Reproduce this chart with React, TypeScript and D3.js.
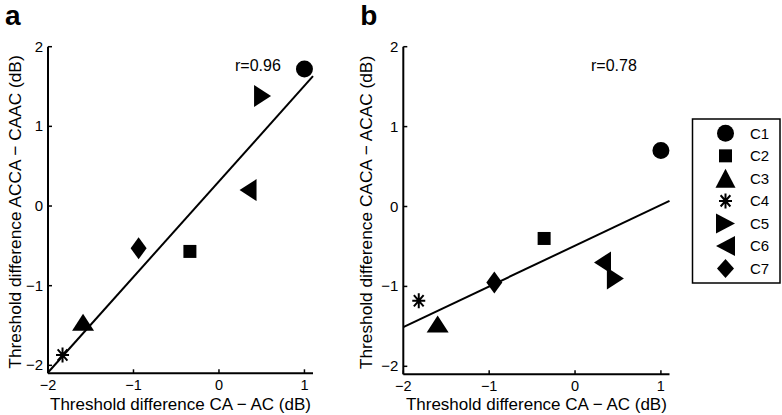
import React from "react";
import * as d3 from "d3";

const conditions = ["C1", "C2", "C3", "C4", "C5", "C6", "C7"];
const markerShapes = ["circle", "square", "triUp", "star", "triRight", "triLeft", "diamond"];
const xValuesA = [1.0, -0.34, -1.59, -1.83, 0.51, 0.34, -0.94];
const yValuesA = [1.72, -0.57, -1.46, -1.87, 1.38, 0.2, -0.53];
const xValuesB = [1.0, -0.36, -1.6, -1.82, 0.47, 0.32, -0.94];
const yValuesB = [0.7, -0.4, -1.47, -1.18, -0.9, -0.7, -0.95];
const fitA = { slope: 1.2, intercept: 0.31, r: "r=0.96" };
const fitB = { slope: 0.51, intercept: -0.49, r: "r=0.78" };
const tickValues = [-2, -1, 0, 1, 2];
const xTickValues = [-2, -1, 0, 1];

const FONT = "Liberation Sans, Arial, sans-serif";

function markerPath(shape: string, cx: number, cy: number, legend = false): string {
  const p = d3.path();
  switch (shape) {
    case "circle": {
      const r = 8.5;
      p.moveTo(cx + r, cy);
      p.arc(cx, cy, r, 0, Math.PI * 2);
      break;
    }
    case "square": {
      const h = 6.5;
      p.rect(cx - h, cy - h, 2 * h, 2 * h);
      break;
    }
    case "triUp": {
      const w = legend ? 10 : 11, h = legend ? 9.5 : 8.5;
      p.moveTo(cx, cy - h);
      p.lineTo(cx + w, cy + h);
      p.lineTo(cx - w, cy + h);
      p.closePath();
      break;
    }
    case "triRight": {
      const w = legend ? 9.5 : 8.5, h = legend ? 10 : 11;
      p.moveTo(cx + w, cy);
      p.lineTo(cx - w, cy + h);
      p.lineTo(cx - w, cy - h);
      p.closePath();
      break;
    }
    case "triLeft": {
      const w = legend ? 9.5 : 8.5, h = legend ? 10 : 11;
      p.moveTo(cx - w, cy);
      p.lineTo(cx + w, cy + h);
      p.lineTo(cx + w, cy - h);
      p.closePath();
      break;
    }
    case "diamond": {
      const w = legend ? 8.5 : 8, h = legend ? 9.5 : 11;
      p.moveTo(cx, cy - h);
      p.lineTo(cx + w, cy);
      p.lineTo(cx, cy + h);
      p.lineTo(cx - w, cy);
      p.closePath();
      break;
    }
    case "star": {
      const w = 6.5, h = 7.5;
      p.moveTo(cx - w, cy);
      p.lineTo(cx + w, cy);
      p.moveTo(cx, cy - h);
      p.lineTo(cx, cy + h);
      p.moveTo(cx - w * 0.75, cy - h * 0.75);
      p.lineTo(cx + w * 0.75, cy + h * 0.75);
      p.moveTo(cx - w * 0.75, cy + h * 0.75);
      p.lineTo(cx + w * 0.75, cy - h * 0.75);
      break;
    }
  }
  return p.toString();
}

function Marker({ shape, cx, cy, legend = false }: { shape: string; cx: number; cy: number; legend?: boolean }) {
  const d = markerPath(shape, cx, cy, legend);
  if (shape === "star") return <path d={d} fill="none" stroke="#000" strokeWidth={2} />;
  return <path d={d} fill="#000" stroke="none" />;
}

type PanelProps = {
  label: string;
  x0: number; x1: number; y0: number; y1: number;
  xs: number[]; ys: number[];
  fit: { slope: number; intercept: number; r: string };
  yLabel: string;
  yLabelX: number;
  rX: number;
};

function Panel({ label, x0, x1, y0, y1, xs, ys, fit, yLabel, yLabelX, rX }: PanelProps) {
  const x = d3.scaleLinear().domain([-2, 1.1]).range([x0, x1]);
  const y = d3.scaleLinear().domain([-2.1, 2]).range([y0, y1]);
  const lineGen = d3.line<number>().x((v) => x(v)).y((v) => y(fit.slope * v + fit.intercept));
  const lineXs = [-2, 1.1];
  return (
    <g>
      <text x={x0 - 43} y={25} fontFamily={FONT} fontWeight="bold" fontSize={28}>{label}</text>
      <line x1={x0} y1={y0} x2={x1} y2={y0} stroke="#000" strokeWidth={2} />
      <line x1={x0} y1={y0} x2={x0} y2={y1} stroke="#000" strokeWidth={2} />
      {xTickValues.map((t) => (
        <g key={"xt" + t}>
          <line x1={x(t)} x2={x(t)} y1={y0} y2={y0 - 4} stroke="#000" strokeWidth={1.5} />
          <text x={x(t)} y={y0 + 17} textAnchor="middle" fontFamily={FONT} fontSize={14.5}>
            {t < 0 ? "\u2212" + Math.abs(t) : String(t)}
          </text>
        </g>
      ))}
      {tickValues.map((t) => (
        <g key={"yt" + t}>
          <line x1={x0} x2={x0 + 4} y1={y(t)} y2={y(t)} stroke="#000" strokeWidth={1.5} />
          <text x={x0 - 5} y={y(t) + 5} textAnchor="end" fontFamily={FONT} fontSize={15}>
            {t < 0 ? "\u2212" + Math.abs(t) : String(t)}
          </text>
        </g>
      ))}
      <text x={(x0 + x1) / 2} y={410} textAnchor="middle" fontFamily={FONT} fontSize={17}>
        Threshold difference CA − AC (dB)
      </text>
      <text
        transform={`translate(${yLabelX},${(y0 + y1) / 2 + 2}) rotate(-90)`}
        textAnchor="middle"
        fontFamily={FONT}
        fontSize={17.3}
      >
        {yLabel}
      </text>
      <path d={lineGen(lineXs) || ""} fill="none" stroke="#000" strokeWidth={2} />
      {xs.map((v, i) => (
        <Marker key={i} shape={markerShapes[i]} cx={x(v)} cy={y(ys[i])} />
      ))}
      <text x={rX} y={71} fontFamily={FONT} fontSize={16}>{fit.r}</text>
    </g>
  );
}

export default function App() {
  const legendY = d3.scaleLinear().domain([0, 6]).range([133.3, 268.5]);
  return (
    <svg width={782} height={415} style={{ position: "absolute", left: 0, top: 0, background: "#fff" }}>
      <rect x={0} y={0} width={782} height={415} fill="#fff" />
      <Panel
        label="a"
        x0={48} x1={313} y0={373.3} y1={46.7}
        xs={xValuesA} ys={yValuesA} fit={fitA}
        yLabel="Threshold difference ACCA − CAAC (dB)"
        yLabelX={21}
        rX={235}
      />
      <Panel
        label="b"
        x0={403.3} x1={669.5} y0={374.3} y1={46.7}
        xs={xValuesB} ys={yValuesB} fit={fitB}
        yLabel="Threshold difference CACA − ACAC (dB)"
        yLabelX={372}
        rX={591}
      />
      <rect x={692.5} y={119} width={87.5} height={164} fill="#fff" stroke="#000" strokeWidth={1.5} />
      {conditions.map((c, i) => (
        <g key={c}>
          <Marker shape={markerShapes[i]} cx={725.5} cy={legendY(i)} legend />
          <text x={750} y={legendY(i) + 5.5} fontFamily={FONT} fontSize={15}>{c}</text>
        </g>
      ))}
    </svg>
  );
}
